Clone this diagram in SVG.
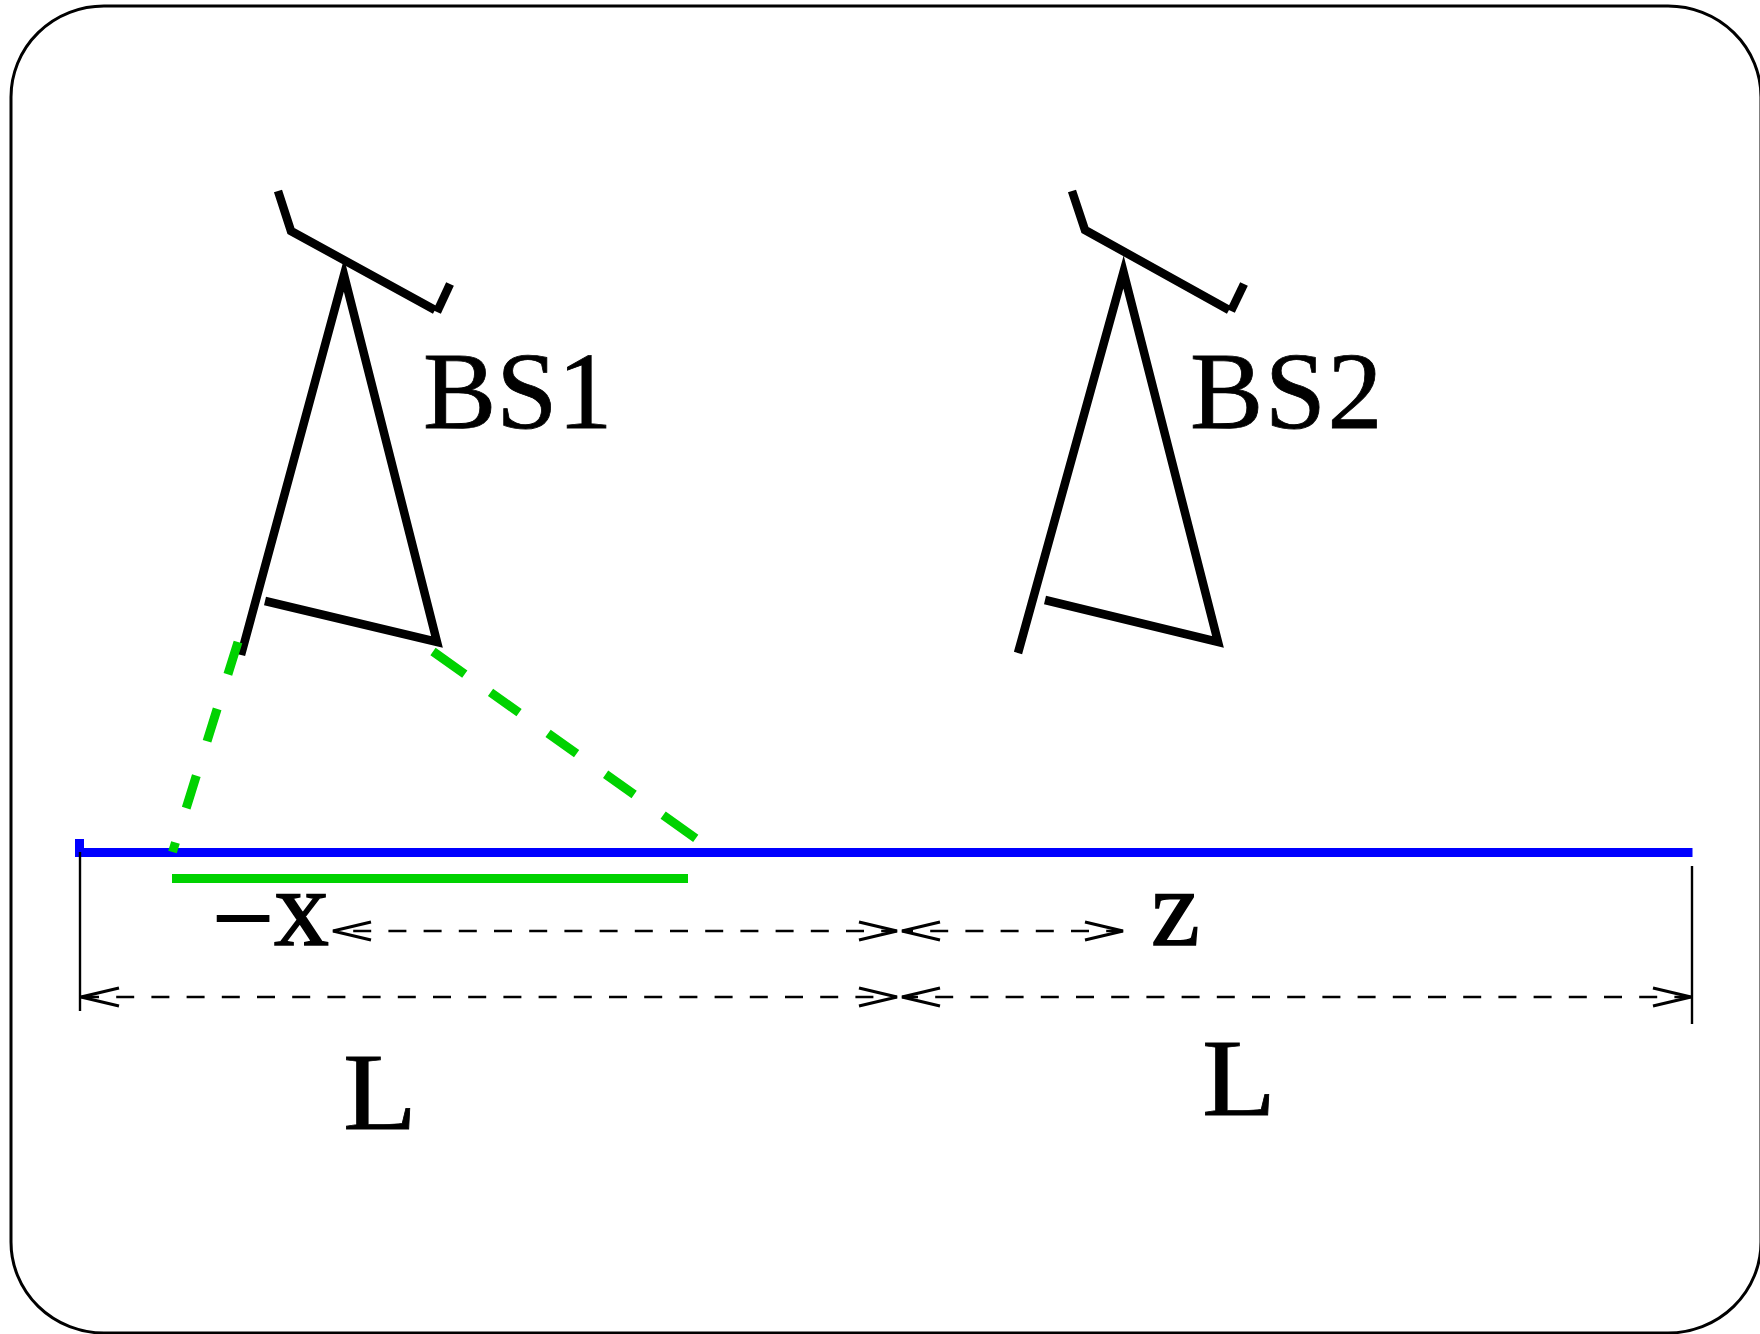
<svg xmlns="http://www.w3.org/2000/svg" width="1760" height="1334" viewBox="0 0 1760 1334">
<style>
text{text-rendering:geometricPrecision}
.t{font-family:"Liberation Serif","Times New Roman",serif;font-size:110px;fill:#000;stroke:#000;stroke-width:.8px}
.b{stroke-width:1.5px}
.ant{fill:none;stroke:#000;stroke-width:8.500;stroke-linejoin:miter;stroke-miterlimit:12}
.dim{fill:none;stroke:#000;stroke-width:2.600;stroke-dasharray:18 17.200}
.ext{fill:none;stroke:#000;stroke-width:2.400}
.gd{fill:none;stroke:#00d200;stroke-width:9}
</style>
<defs>
<marker id="head" markerUnits="userSpaceOnUse" markerWidth="44" markerHeight="26" refX="40" refY="13" orient="auto-start-reverse">
<path d="M2,4 L40,13 L2,22" fill="none" stroke="#000" stroke-width="3"/>
</marker>
</defs>
<rect width="1760" height="1334" fill="#fff"/>
<g id="frame"><rect x="11" y="6" width="1750" height="1327" rx="93" ry="91" fill="none" stroke="#000" stroke-width="3"/></g>
<g id="bs1">
<path class="ant" d="M278,191 L291,231 L435,310"/>
<path class="ant" d="M437,312 L450,284"/>
<path class="ant" d="M241,655 L344,275 L437,642 L265,601"/>
<text class="t" x="423" y="428">BS1</text>
</g>
<g id="bs2">
<path class="ant" d="M1072,191 L1085,230 L1229,310"/>
<path class="ant" d="M1231,311 L1244,284"/>
<path class="ant" d="M1018,653 L1123.500,272 L1218,642 L1045,600"/>
<text class="t" x="1190" y="428" letter-spacing="1.500">BS2</text>
</g>
<g id="road">
<rect x="75" y="848" width="1617.500" height="9" fill="#0000ff"/>
<rect x="75" y="839" width="9" height="12" fill="#0000ff"/>
<rect x="172" y="874" width="516" height="9" fill="#00d200"/>
</g>
<g id="connectors">
<path class="gd" stroke-dasharray="34 36" d="M238,642 L172.500,852"/>
<path class="gd" stroke-dasharray="39 31.600 35 35.600 35 35.600 35 35.600 40 10" d="M433,651.500 L696,838.500"/>
<path class="ext" d="M80,852 V1011"/>
<path class="ext" d="M1692,866 V1024"/>
<path class="dim" stroke-dashoffset="15" d="M333,931 H897" marker-start="url(#head)" marker-end="url(#head)"/>
<path class="dim" stroke-dashoffset="7" d="M902,931 H1123" marker-start="url(#head)" marker-end="url(#head)"/>
<path class="dim" d="M81,997 H897" marker-start="url(#head)" marker-end="url(#head)"/>
<path class="dim" stroke-dashoffset="2" d="M902,997 H1691" marker-start="url(#head)" marker-end="url(#head)"/>
</g>
<g id="labels">
<text class="t b" x="212" y="945"><tspan y="955">−</tspan><tspan y="945">x</tspan></text>
<text class="t b" x="1151" y="945">z</text>
<text class="t" x="343" y="1129" textLength="74" lengthAdjust="spacingAndGlyphs">L</text>
<text class="t" x="1202" y="1115" textLength="74" lengthAdjust="spacingAndGlyphs">L</text>
</g>
</svg>
